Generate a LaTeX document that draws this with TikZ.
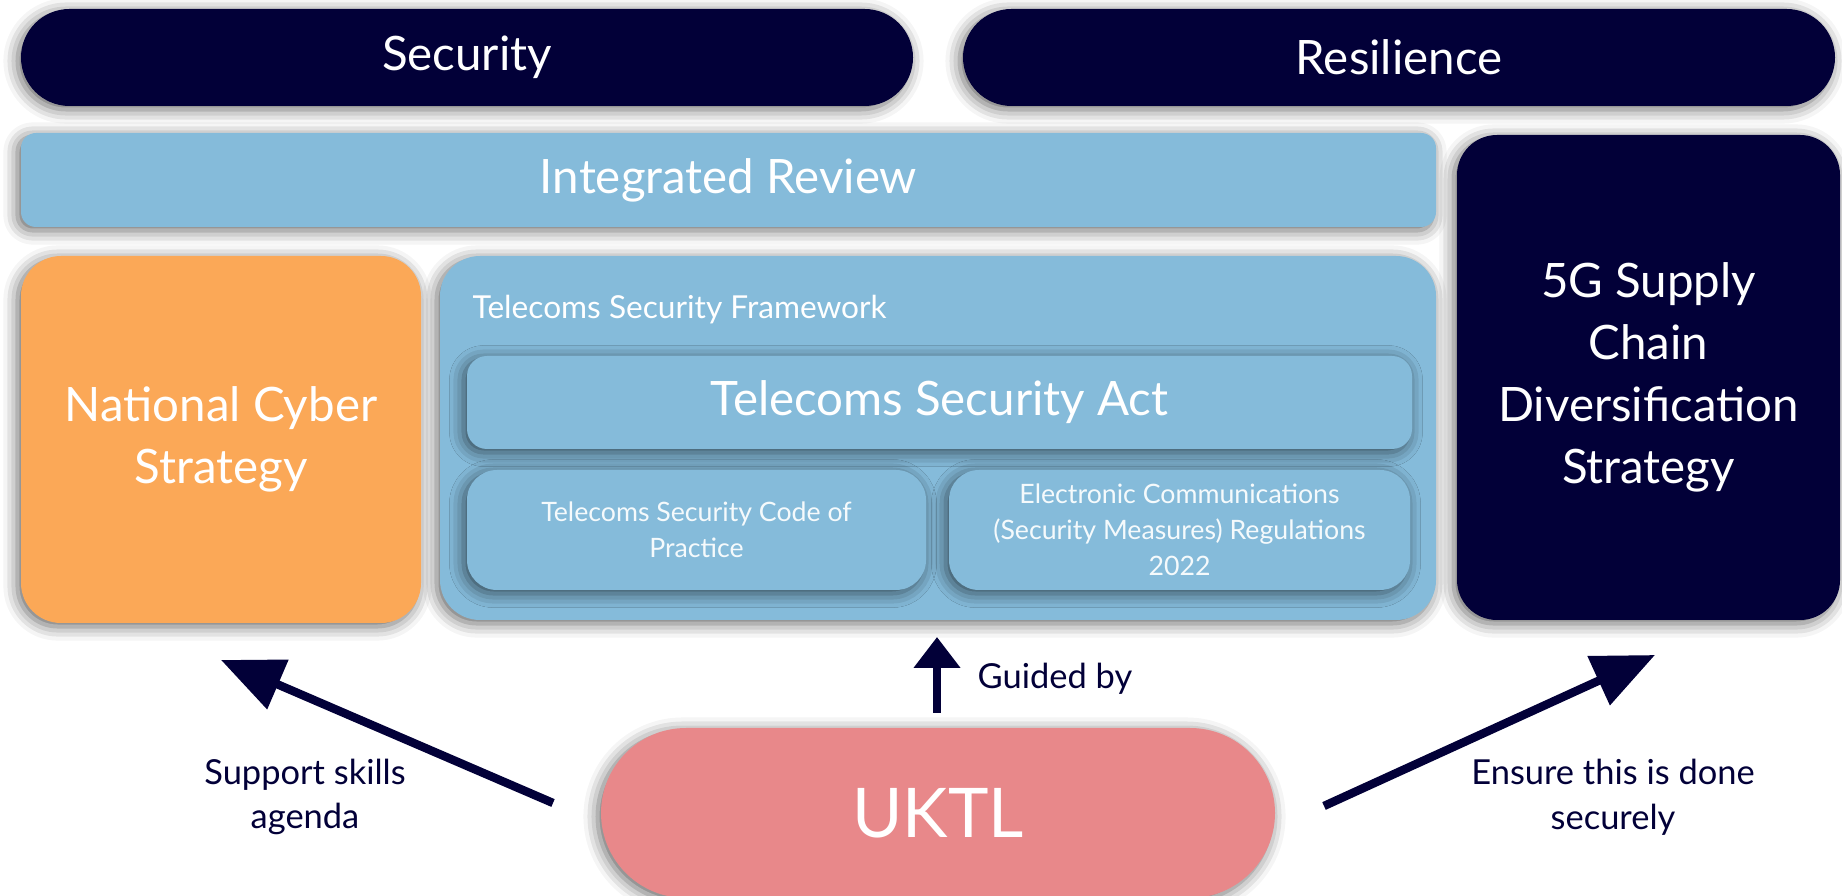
\documentclass[tikz,border=0pt]{standalone}
\usepackage{fontspec}
\setmainfont{Lato}
\usetikzlibrary{positioning,arrows.meta,shadows.blur}
\definecolor{navy}{HTML}{020038}
\definecolor{skyblue}{HTML}{85BBDA}
\definecolor{peach}{HTML}{FBA857}
\definecolor{rose}{HTML}{E8888A}
\begin{document}
\begin{tikzpicture}[
    main/.style = {rounded corners=4mm, text=white, align=center, inner sep=0pt,
        blur shadow={shadow xshift=-1pt, shadow yshift=-1pt, shadow blur radius=4pt, shadow opacity=60}},
    big/.style = {font=\fontsize{13.5}{17.7}\selectfont},
    small/.style = {font=\fontsize{7.6}{10.3}\selectfont, text=white!92!skyblue},
    note/.style = {text=navy, align=center, font=\fontsize{9.8}{12.7}\selectfont},
    link/.style = {navy, line width=2.4pt}]
	\useasboundingbox (0,0) rectangle (18.42,-8.96);
	\node[main, big, fill=navy, rounded corners=4.85mm, minimum width=8.92cm, minimum height=0.97cm] (1) at (4.67,-0.575) {Security};
	\node[main, big, fill=navy, rounded corners=4.85mm, minimum width=8.72cm, minimum height=0.97cm] (2) at (13.99,-0.575) {Resilience};
	\node[main, big, fill=skyblue, rounded corners=1.5mm, minimum width=14.15cm, minimum height=0.94cm] (3) at (7.285,-1.80) {Integrated Review};
	\node[main, big, fill=peach, minimum width=4.0cm, minimum height=3.67cm] (4) at (2.21,-4.395) {National Cyber\\Strategy};
	\node[main, fill=skyblue, minimum width=9.96cm, minimum height=3.64cm] (5) at (9.38,-4.38) {};
	\node[main, big, fill=skyblue, rounded corners=2mm, minimum width=9.45cm, minimum height=0.93cm] (6) at (9.395,-4.025) {Telecoms Security Act};
	\node[main, small, fill=skyblue, rounded corners=3mm, minimum width=4.59cm, minimum height=1.2cm] (7) at (6.965,-5.30) {Telecoms Security Code of\\Practice};
	\node[main, small, fill=skyblue, rounded corners=3mm, minimum width=4.61cm, minimum height=1.2cm] (8) at (11.795,-5.30) {Electronic Communications\\(Security Measures) Regulations\\2022};
	\node[main, big, fill=navy, minimum width=3.83cm, minimum height=4.85cm] (9) at (16.485,-3.775) {5G Supply\\Chain\\Diversification\\Strategy};
	\node[main, fill=rose, rounded corners=8.5mm, minimum width=6.74cm, minimum height=1.7cm, font=\fontsize{19.5}{22}\selectfont] (10) at (9.38,-8.13) {UKTL};
	\node[text=white, anchor=west, font=\fontsize{9}{11}\selectfont, inner sep=0pt] (11) at (4.72,-3.10) {Telecoms Security Framework};
	% arrows out of UKTL
	\coordinate (a1) at (5.53,-8.03);
	\coordinate (a2) at (2.21,-6.60);
	\coordinate (b1) at (9.37,-7.13);
	\coordinate (b2) at (9.37,-6.37);
	\coordinate (c1) at (13.24,-8.06);
	\coordinate (c2) at (16.55,-6.55);
	\draw[link, -{Triangle[length=6.2mm, width=5.2mm]}] (a1) -- (a2);
	\draw[link, -{Triangle[length=3.1mm, width=4.5mm]}] (b1) -- (b2);
	\draw[link, -{Triangle[length=6.2mm, width=5.2mm]}] (c1) -- (c2);
	\node[note, anchor=west, inner sep=0pt] (12) at (9.77,-6.79) {Guided by};
	\node[note] (13) at (3.05,-7.97) {Support skills\\agenda};
	\node[note] (14) at (16.13,-7.97) {Ensure this is done\\securely};
\end{tikzpicture}
\end{document}
